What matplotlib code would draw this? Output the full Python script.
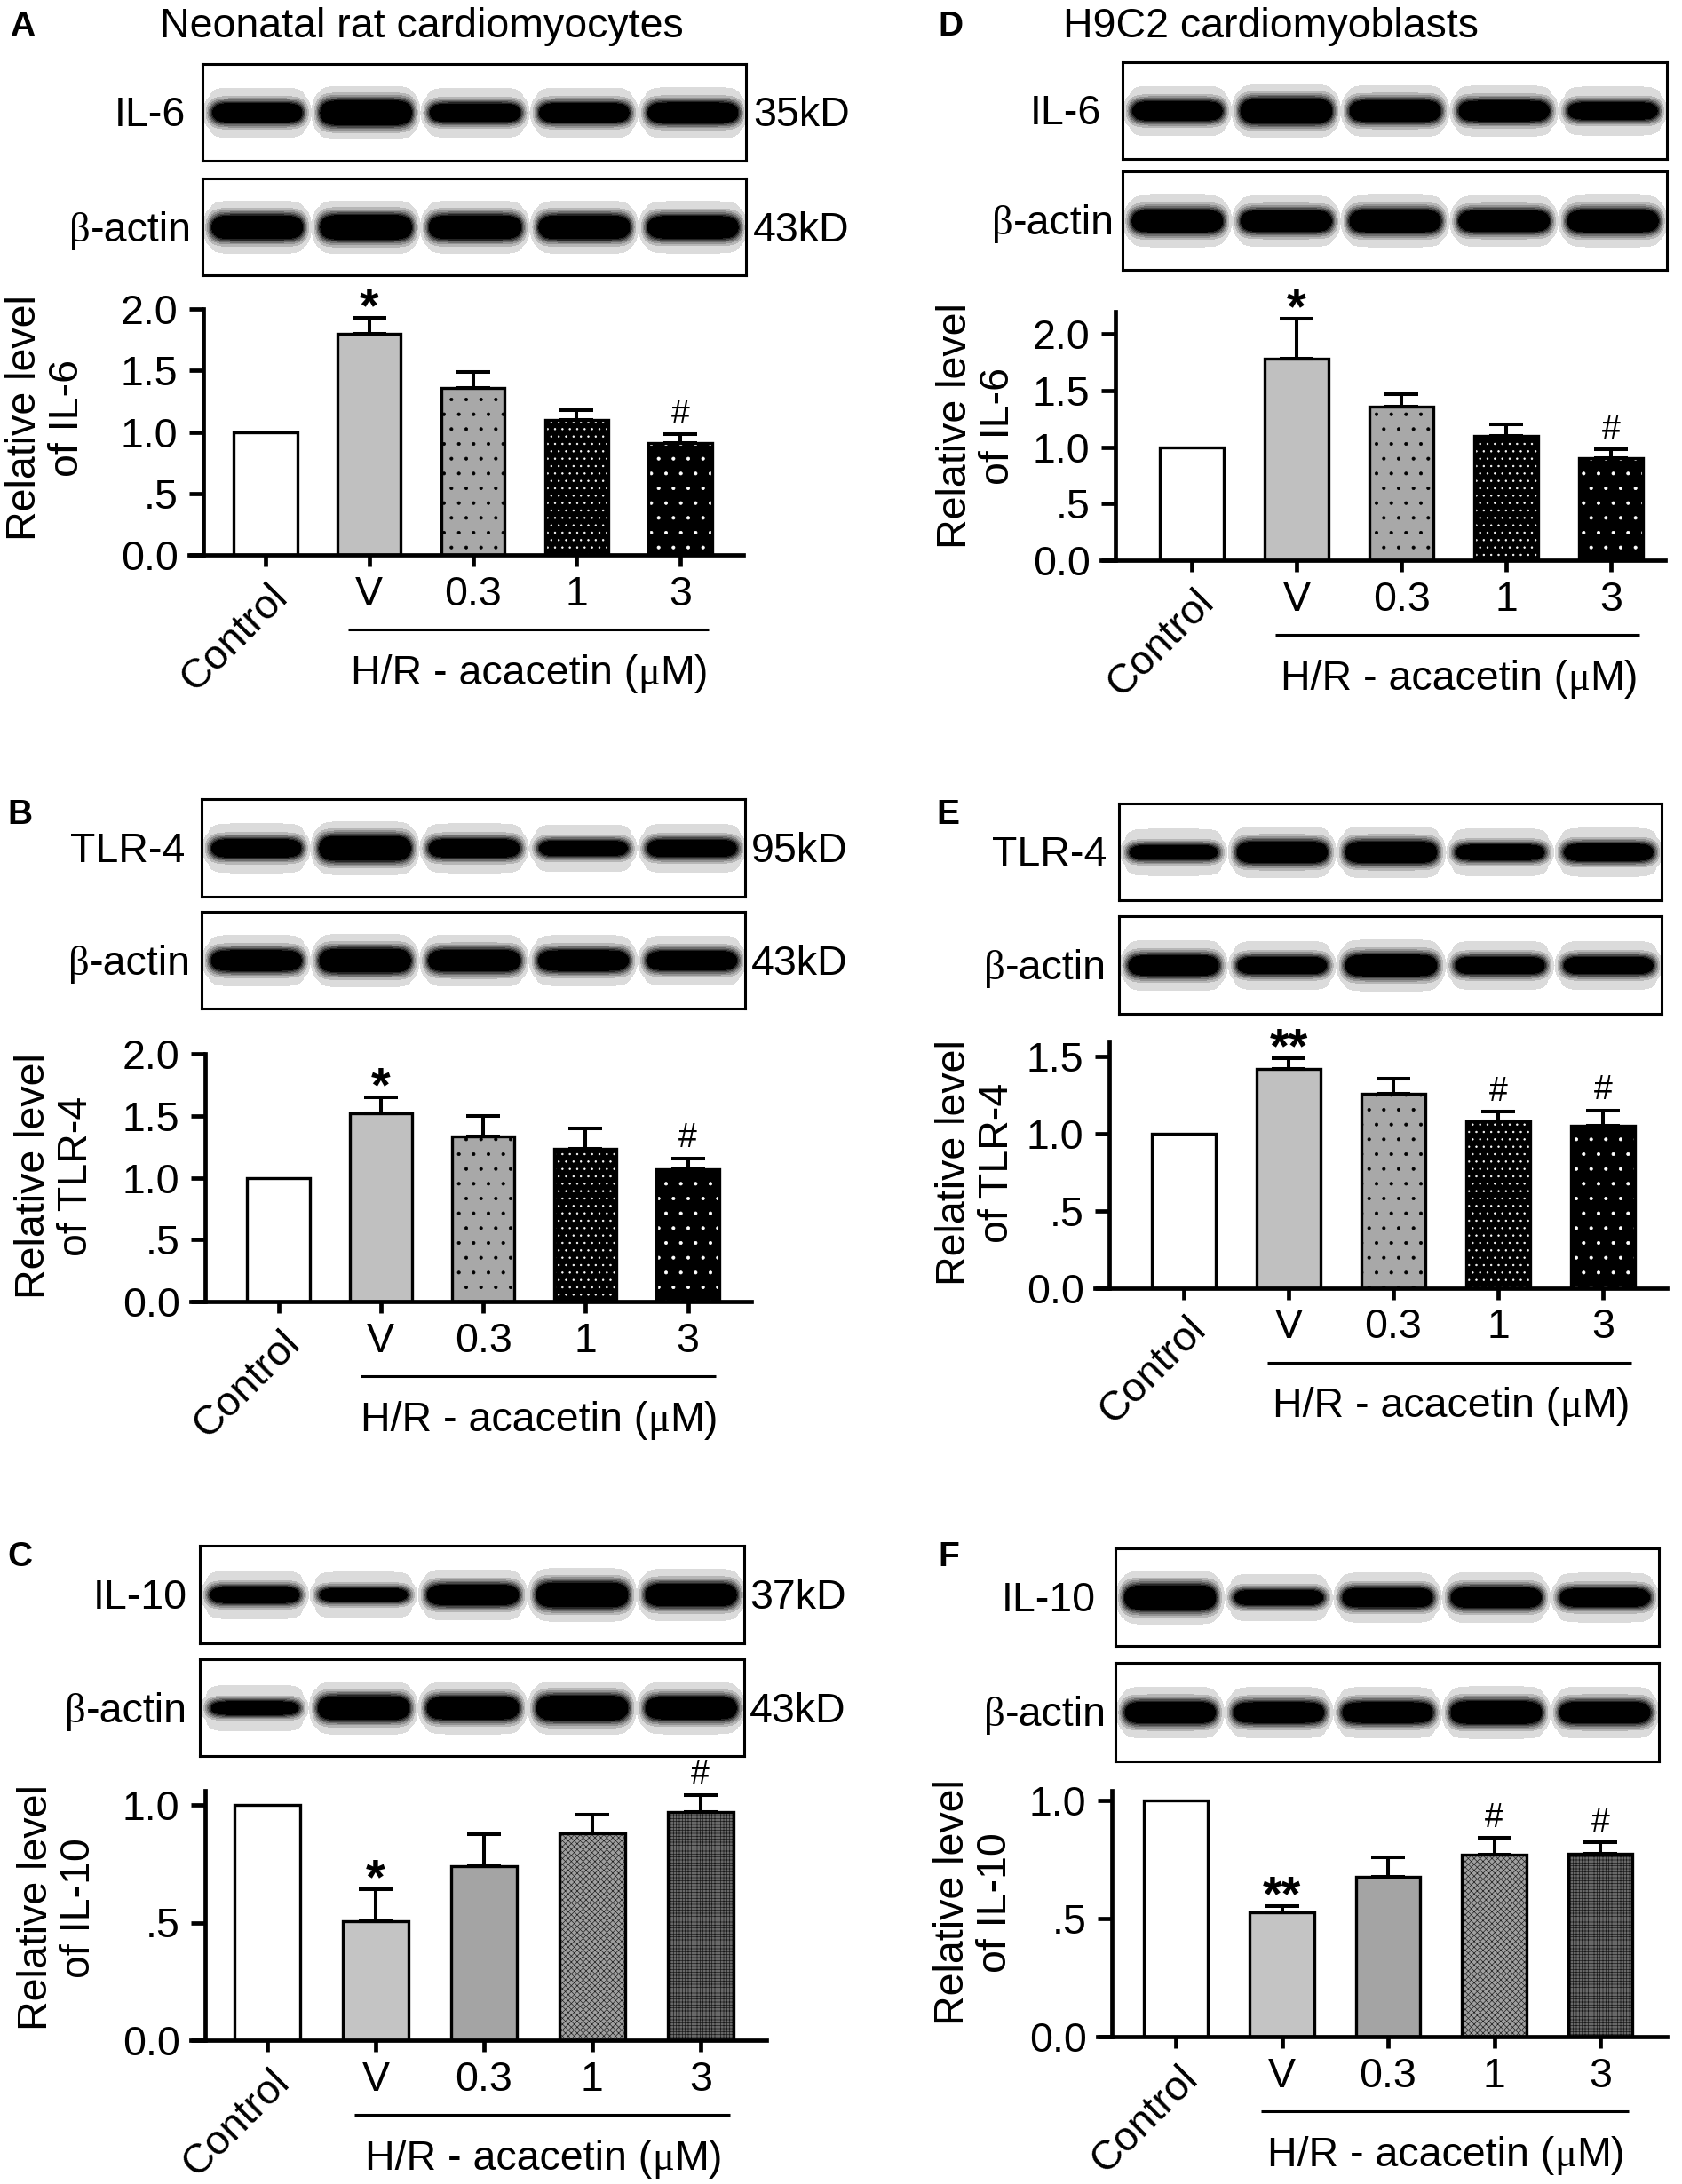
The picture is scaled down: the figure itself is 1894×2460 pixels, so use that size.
import numpy as np
import matplotlib
matplotlib.use('Agg')
import matplotlib.pyplot as plt
import matplotlib.transforms as mtransforms

plt.rcParams['font.family'] = ['Liberation Sans', 'DejaVu Sans']
plt.rcParams['hatch.linewidth'] = 0.5

W, H = 1894, 2460
FS = 33.5

groups = ['Control', 'V', '0.3', '1', '3']
group_title = 'H/R - acacetin ('

# bar values (mean, SEM)
il6_nrc_mean = [1.0, 1.80, 1.36, 1.10, 0.91]
il6_nrc_sem = [0, 0.13, 0.13, 0.08, 0.07]
il6_nrc_marks = ['', '*', '', '', '#']

tlr4_nrc_mean = [1.0, 1.52, 1.335, 1.235, 1.07]
tlr4_nrc_sem = [0, 0.13, 0.16, 0.16, 0.085]
tlr4_nrc_marks = ['', '*', '', '', '#']

il10_nrc_mean = [1.0, 0.505, 0.74, 0.88, 0.97]
il10_nrc_sem = [0, 0.135, 0.135, 0.08, 0.073]
il10_nrc_marks = ['', '*', '', '', '#']

il6_h9c2_mean = [1.0, 1.78, 1.355, 1.10, 0.905]
il6_h9c2_sem = [0, 0.35, 0.115, 0.10, 0.075]
il6_h9c2_marks = ['', '*', '', '', '#']

tlr4_h9c2_mean = [1.0, 1.418, 1.256, 1.08, 1.05]
tlr4_h9c2_sem = [0, 0.072, 0.097, 0.06, 0.10]
tlr4_h9c2_marks = ['', '**', '', '#', '#']

il10_h9c2_mean = [1.0, 0.525, 0.676, 0.77, 0.775]
il10_h9c2_sem = [0, 0.027, 0.084, 0.072, 0.047]
il10_h9c2_marks = ['', '**', '', '#', '#']

# rough band strength of each lane in the blots
il6_nrc_bands = [0.75, 1.0, 0.7, 0.75, 0.8]
actin_a_bands = [0.95, 1.0, 0.95, 0.95, 0.9]
tlr4_nrc_bands = [0.7, 1.0, 0.7, 0.55, 0.65]
actin_b_bands = [0.8, 0.95, 0.85, 0.8, 0.75]
il10_nrc_bands = [0.6, 0.45, 0.8, 1.0, 0.9]
actin_c_bands = [0.45, 0.95, 0.9, 1.0, 0.9]
il6_h9c2_bands = [0.75, 1.0, 0.85, 0.8, 0.65]
actin_d_bands = [0.9, 0.85, 0.9, 0.85, 0.9]
tlr4_h9c2_bands = [0.5, 0.85, 0.85, 0.55, 0.65]
actin_e_bands = [0.8, 0.65, 0.85, 0.65, 0.65]
il10_h9c2_bands = [1.0, 0.55, 0.75, 0.8, 0.7]
actin_f_bands = [0.85, 0.8, 0.8, 0.9, 0.85]

dotted = [('white', None, None), ('#c0c0c0', None, None), ('#a8a8a8', '.', 'black'),
          ('black', '..', 'white'), ('black', '.', 'white')]
checked = [('white', None, None), ('#c4c4c4', None, None), ('#a4a4a4', None, None),
           ('#a0a0a0', 'xxxxx', '#202020'), ('#6a6a6a', '+++++', '#1a1a1a')]

fig = plt.figure(figsize=(W / 100, H / 100), dpi=100)
renderer = fig.canvas.get_renderer()


def fpos(x, y):
    return x / W, 1 - y / H


def mixed_text(x, y, parts, ha='center'):
    # parts drawn side by side on one baseline, y is the visual middle of capitals
    objs = [fig.text(0, 0, s, fontsize=FS, family=fam, va='baseline') for s, fam in parts]
    widths = [o.get_window_extent(renderer).width for o in objs]
    if ha == 'center':
        start = x - sum(widths) / 2
    elif ha == 'right':
        start = x - sum(widths)
    else:
        start = x
    for o, w in zip(objs, widths):
        o.set_position(fpos(start, y + 16))
        start += w


def blot_array(strengths, w, h):
    xx = np.arange(w)[None, :]
    yy = np.arange(h)[:, None]
    img = np.ones((h, w))
    pitch = w / len(strengths)
    for i, s in enumerate(strengths):
        xc = (i + 0.5) * pitch
        half = pitch * 0.43
        ex = np.exp(-np.abs((xx - xc) / half) ** 8)
        core = ex * np.exp(-((yy - h * 0.5) / (6 + 9 * s)) ** 2)
        halo = np.exp(-np.abs((xx - xc) / (half * 1.08)) ** 8) * \
            np.exp(-np.abs((yy - h * 0.5) / (24 + 8 * s)) ** 4)
        lane = np.minimum(1 - 0.16 * halo, 1 - np.clip(2.2 * core * (0.55 + 0.45 * s), 0, 1))
        img = np.minimum(img, lane)
    return np.round(img * 7) / 7


def draw_blot(name, strengths, box, label_x, kd=None, kd_x=None):
    l, r, t, b = box
    ax = fig.add_axes([l / W, 1 - b / H, (r - l) / W, (b - t) / H])
    ax.imshow(blot_array(strengths, r - l, b - t), cmap='gray', vmin=0, vmax=1,
              aspect='auto', interpolation='nearest')
    ax.set_xticks([])
    ax.set_yticks([])
    for sp in ax.spines.values():
        sp.set_linewidth(2.2)
    yc = (t + b) / 2
    if name.startswith('β'):
        mixed_text(label_x, yc, [('β', 'Liberation Serif'), (name[1:], 'Liberation Sans')], ha='right')
    else:
        mixed_text(label_x, yc, [(name, 'Liberation Sans')], ha='right')
    if kd:
        mixed_text(kd_x, yc, [(kd, 'Liberation Sans')], ha='left')


def draw_chart(geo, means, sems, marks, styles, yticks, ytick_labels, ylabel, ylabel_xy):
    x0, x1, c0, c4 = geo['x0'], geo['x1'], geo['c0'], geo['c4']
    ybot, unit, ytop = geo['ybot'], geo['unit'], geo['ytop']
    s = (c4 - c0) / 4
    top_px = ybot - ytop * unit
    left_px = x0 - 16
    ax = fig.add_axes([left_px / W, 1 - ybot / H, (x1 - left_px) / W, (ybot - top_px) / H])
    ax.set_xlim((left_px - c0) / s, (x1 - c0) / s)
    ax.set_ylim(0, ytop)
    ax.patch.set_visible(False)
    ax.spines['top'].set_visible(False)
    ax.spines['right'].set_visible(False)
    ax.spines['left'].set_position(('data', (x0 - c0) / s))
    ax.spines['left'].set_linewidth(3.4)
    ax.spines['bottom'].set_linewidth(3.4)

    xs = np.arange(len(means))
    bars = ax.bar(xs, means, width=0.61, color=[st[0] for st in styles], linewidth=0, zorder=2)
    for b, st in zip(bars, styles):
        if st[1]:
            b.set_hatch(st[1])
            b.set_edgecolor(st[2])
    ax.bar(xs, means, width=0.61, fill=False, edgecolor='black', linewidth=2.4, zorder=3)
    ax.errorbar(xs[1:], means[1:], yerr=[np.zeros(len(xs) - 1), sems[1:]], fmt='none',
                ecolor='black', elinewidth=2.9, capsize=13.5, capthick=2.9, zorder=4)

    for x, m, e, mk in zip(xs, means, sems, marks):
        if mk.startswith('*'):
            ax.annotate(mk, (x, m + e), xytext=(0, -3), textcoords='offset points',
                        ha='center', va='baseline', fontsize=40, fontweight='bold')
        elif mk == '#':
            ax.annotate(mk, (x, m + e), xytext=(0, 9), textcoords='offset points',
                        ha='center', va='baseline', fontsize=27)

    ax.set_yticks(yticks)
    ax.set_yticklabels(ytick_labels, fontsize=FS)
    ax.tick_params(axis='y', length=11.5, width=3.4, pad=9)
    ax.set_xticks(xs)
    ax.set_xticklabels([''] + groups[1:], fontsize=FS)
    ax.tick_params(axis='x', length=9.4, width=3.4, pad=7)
    ax.annotate(groups[0], xy=(0, 0), xycoords=('data', 'axes fraction'), xytext=(13, -29),
                textcoords='offset points', rotation=45, rotation_mode='anchor',
                ha='right', va='center', fontsize=FS)

    trans = mtransforms.blended_transform_factory(ax.transData, ax.transAxes)
    line_tr = trans + mtransforms.ScaledTranslation(0, -84 / 100, fig.dpi_scale_trans)
    ax.plot([0.8, 4.27], [0, 0], transform=line_tr, color='black', lw=2.2,
            clip_on=False, solid_capstyle='butt')
    mixed_text(c0 + 2.55 * s, ybot + 130,
               [(group_title, 'Liberation Sans'), ('μ', 'Liberation Serif'), ('M)', 'Liberation Sans')])

    fig.text(*fpos(*ylabel_xy), ylabel, rotation=90, ha='center', va='center',
             fontsize=FS, linespacing=1.1, multialignment='center')


ticks2 = [0, 0.5, 1.0, 1.5, 2.0]
labels2 = ['0.0', '.5', '1.0', '1.5', '2.0']
ticks15 = [0, 0.5, 1.0, 1.5]
labels15 = ['0.0', '.5', '1.0', '1.5']
ticks1 = [0, 0.5, 1.0]
labels1 = ['0.0', '.5', '1.0']

# panel letters and column titles
for letter, xy in [('A', (25, 30)), ('B', (22, 918)), ('C', (22, 1754)),
                   ('D', (1070, 30)), ('E', (1067, 918)), ('F', (1068, 1754))]:
    fig.text(*fpos(*xy), letter, fontsize=28, fontweight='bold', ha='center', va='center')
fig.text(*fpos(475, 30), 'Neonatal rat cardiomyocytes', fontsize=FS, ha='center', va='center')
fig.text(*fpos(1431, 30), 'H9C2 cardiomyoblasts', fontsize=FS, ha='center', va='center')

# A
draw_blot('IL-6', il6_nrc_bands, (228, 840, 72, 181), 209, '35kD', 848)
draw_blot('β-actin', actin_a_bands, (228, 840, 201, 310), 216, '43kD', 848)
draw_chart(dict(x0=229, x1=837, c0=299, c4=766, ybot=625, unit=138.5, ytop=2.0),
           il6_nrc_mean, il6_nrc_sem, il6_nrc_marks, dotted, ticks2, labels2,
           'Relative level\nof IL-6', (52, 471))

# B
draw_blot('TLR-4', tlr4_nrc_bands, (227, 839, 900, 1010), 208, '95kD', 846)
draw_blot('β-actin', actin_b_bands, (227, 839, 1027, 1136), 215, '43kD', 846)
draw_chart(dict(x0=231, x1=846, c0=313.5, c4=774.6, ybot=1466, unit=139.5, ytop=2.0),
           tlr4_nrc_mean, tlr4_nrc_sem, tlr4_nrc_marks, dotted, ticks2, labels2,
           'Relative level\nof TLR-4', (62, 1325))

# C
draw_blot('IL-10', il10_nrc_bands, (225, 838, 1741, 1851), 211, '37kD', 844)
draw_blot('β-actin', actin_c_bands, (225, 838, 1869, 1978), 211, '43kD', 844)
draw_chart(dict(x0=231, x1=863, c0=301, c4=788.7, ybot=2298, unit=265, ytop=1.06),
           il10_nrc_mean, il10_nrc_sem, il10_nrc_marks, checked, ticks1, labels1,
           'Relative level\nof IL-10', (65, 2149))

# D
draw_blot('IL-6', il6_h9c2_bands, (1264, 1877, 70, 179), 1240)
draw_blot('β-actin', actin_d_bands, (1264, 1877, 193, 304), 1255)
draw_chart(dict(x0=1256, x1=1875, c0=1342, c4=1814, ybot=631, unit=127.5, ytop=2.2),
           il6_h9c2_mean, il6_h9c2_sem, il6_h9c2_marks, dotted, ticks2, labels2,
           'Relative level\nof IL-6', (1100, 480))

# E
draw_blot('TLR-4', tlr4_h9c2_bands, (1260, 1871, 905, 1014), 1246)
draw_blot('β-actin', actin_e_bands, (1260, 1871, 1032, 1142), 1246)
draw_chart(dict(x0=1249, x1=1877, c0=1333, c4=1805, ybot=1450.5, unit=173.7, ytop=1.6),
           tlr4_h9c2_mean, tlr4_h9c2_sem, tlr4_h9c2_marks, dotted, ticks15, labels15,
           'Relative level\nof TLR-4', (1099, 1310))

# F
draw_blot('IL-10', il10_h9c2_bands, (1256, 1868, 1744, 1854), 1234)
draw_blot('β-actin', actin_f_bands, (1256, 1868, 1873, 1984), 1246)
draw_chart(dict(x0=1252, x1=1877, c0=1324, c4=1802, ybot=2294, unit=266, ytop=1.04),
           il10_h9c2_mean, il10_h9c2_sem, il10_h9c2_marks, checked, ticks1, labels1,
           'Relative level\nof IL-10', (1097, 2143))

fig.savefig('out.png', dpi=100)
